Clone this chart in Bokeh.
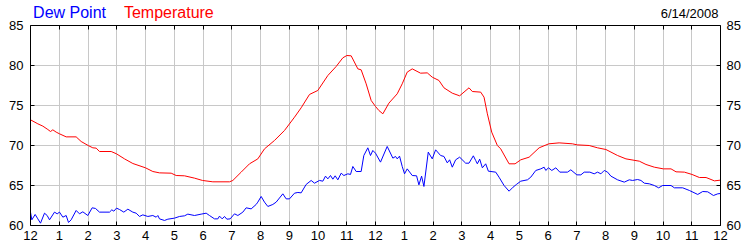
from bokeh.plotting import figure
from bokeh.models import Range1d, LinearAxis, FixedTicker, Label
from bokeh.embed import file_html
from bokeh.resources import INLINE

# hours since midnight (0..24) and temperature (°F)
temp_hours = [0.0, 0.255, 0.429, 0.603, 0.696, 0.777, 0.893, 1.009, 1.241, 1.588, 1.762, 2.006, 2.168, 2.284, 2.4, 2.806, 2.991, 3.27, 3.56, 4.0, 4.255, 4.487, 4.893, 5.067, 5.357, 5.704, 5.983, 6.342, 6.922, 7.038, 7.328, 7.617, 7.907, 8.139, 8.487, 8.835, 9.183, 9.414, 9.704, 9.994, 10.342, 10.632, 10.864, 11.003, 11.154, 11.386, 11.501, 11.675, 11.849, 12.0, 12.116, 12.256, 12.465, 12.755, 12.929, 13.103, 13.278, 13.568, 13.8, 13.974, 14.207, 14.381, 14.671, 14.927, 15.252, 15.368, 15.659, 15.775, 15.891, 16.042, 16.239, 16.355, 16.646, 16.855, 17.052, 17.343, 17.691, 18.028, 18.388, 18.852, 19.015, 19.433, 19.724, 20.014, 20.42, 20.711, 21.176, 21.408, 21.698, 22.012, 22.279, 22.453, 22.743, 23.01, 23.266, 23.498, 23.789, 23.998]
temperature = [73.21, 72.71, 72.42, 72.0, 71.75, 71.96, 71.67, 71.46, 71.08, 71.08, 70.5, 70.0, 69.71, 69.67, 69.25, 69.25, 68.96, 68.33, 67.75, 67.21, 66.75, 66.58, 66.54, 66.25, 66.21, 65.92, 65.63, 65.46, 65.46, 65.63, 66.67, 67.71, 68.33, 69.58, 70.63, 71.88, 73.54, 74.71, 76.38, 76.88, 78.75, 79.88, 80.96, 81.25, 81.21, 79.58, 79.46, 77.71, 75.63, 74.88, 74.38, 73.96, 75.29, 76.46, 77.71, 79.17, 79.58, 79.04, 79.08, 78.54, 78.13, 77.21, 76.54, 76.21, 77.21, 76.75, 76.67, 76.04, 73.96, 71.67, 70.0, 69.58, 67.71, 67.71, 68.21, 68.54, 69.71, 70.21, 70.33, 70.21, 70.08, 70.0, 69.71, 69.5, 68.75, 68.33, 68.04, 67.63, 67.29, 67.08, 67.08, 66.71, 66.67, 66.38, 66.0, 66.0, 65.58, 65.67]

# hours since midnight and dew point (°F)
dew_hours = [0.0, 0.046, 0.162, 0.255, 0.348, 0.487, 0.58, 0.661, 0.835, 0.928, 1.009, 1.125, 1.241, 1.322, 1.414, 1.588, 1.704, 1.82, 1.994, 2.145, 2.261, 2.4, 2.748, 2.829, 2.899, 2.991, 3.096, 3.246, 3.386, 3.559, 3.675, 3.791, 3.907, 4.081, 4.255, 4.371, 4.429, 4.487, 4.661, 4.777, 5.009, 5.183, 5.357, 5.472, 5.704, 5.936, 6.11, 6.226, 6.4, 6.516, 6.574, 6.667, 6.748, 6.829, 6.945, 7.096, 7.212, 7.386, 7.501, 7.675, 7.849, 7.907, 8.023, 8.139, 8.255, 8.429, 8.545, 8.777, 8.893, 9.009, 9.183, 9.299, 9.414, 9.588, 9.762, 9.878, 10.052, 10.168, 10.261, 10.342, 10.435, 10.516, 10.597, 10.69, 10.806, 10.899, 11.038, 11.13, 11.212, 11.328, 11.501, 11.594, 11.733, 11.826, 11.907, 12.0, 12.174, 12.407, 12.604, 12.697, 12.755, 12.836, 12.929, 13.01, 13.103, 13.278, 13.429, 13.51, 13.603, 13.684, 13.835, 13.974, 14.091, 14.265, 14.381, 14.497, 14.578, 14.671, 14.787, 14.927, 15.136, 15.252, 15.403, 15.484, 15.542, 15.624, 15.717, 15.833, 15.926, 16.181, 16.297, 16.472, 16.646, 16.785, 16.901, 17.052, 17.285, 17.401, 17.575, 17.749, 17.865, 17.923, 18.016, 18.132, 18.272, 18.411, 18.678, 18.794, 19.003, 19.143, 19.259, 19.456, 19.607, 19.723, 19.84, 19.956, 20.072, 20.188, 20.42, 20.653, 20.827, 20.943, 21.117, 21.233, 21.35, 21.524, 21.698, 21.849, 21.988, 22.279, 22.395, 22.685, 22.917, 23.208, 23.382, 23.556, 23.754, 23.905, 23.998]
dew_point = [61.67, 60.71, 61.38, 60.83, 60.29, 61.54, 61.25, 60.71, 61.67, 61.46, 61.67, 61.04, 61.25, 60.38, 60.71, 61.88, 61.46, 61.71, 61.25, 62.21, 62.13, 61.67, 61.67, 61.96, 61.79, 62.17, 62.0, 61.67, 62.04, 61.67, 61.54, 61.13, 61.33, 61.13, 61.25, 61.04, 61.25, 60.83, 60.63, 60.79, 60.92, 61.13, 61.21, 61.42, 61.25, 61.42, 61.54, 61.25, 60.83, 60.83, 61.17, 60.83, 61.13, 60.79, 60.83, 61.46, 61.25, 61.67, 62.21, 62.08, 62.63, 62.92, 63.63, 62.92, 62.38, 62.63, 62.92, 63.96, 63.33, 63.33, 64.04, 64.13, 64.08, 65.13, 65.63, 65.29, 65.63, 65.54, 66.17, 65.83, 66.25, 65.79, 66.21, 65.71, 66.54, 66.25, 66.46, 66.38, 67.38, 66.75, 66.75, 68.75, 69.71, 68.75, 69.38, 69.04, 67.92, 69.88, 68.42, 68.63, 68.33, 68.67, 67.38, 66.46, 67.08, 66.25, 66.21, 65.08, 66.17, 64.88, 69.17, 68.33, 69.46, 68.75, 68.63, 67.83, 68.21, 67.29, 68.21, 68.54, 67.79, 67.79, 68.71, 68.13, 67.71, 68.29, 67.21, 67.71, 66.79, 66.67, 66.04, 65.0, 64.29, 64.79, 65.13, 65.54, 65.71, 66.04, 66.88, 67.08, 67.29, 66.88, 67.21, 66.88, 67.21, 66.67, 66.67, 66.96, 66.33, 66.33, 66.67, 66.67, 66.46, 66.67, 66.46, 66.88, 66.67, 66.17, 65.71, 65.42, 65.71, 65.63, 65.75, 65.63, 65.29, 65.21, 65.0, 64.71, 65.0, 65.0, 64.71, 64.71, 64.38, 63.88, 64.25, 64.21, 63.75, 63.96, 64.0]

x_ticks = list(range(0, 25))
x_tick_labels = ["12", "1", "2", "3", "4", "5", "6", "7", "8", "9", "10", "11",
                 "12", "1", "2", "3", "4", "5", "6", "7", "8", "9", "10", "11", "12"]
y_ticks = [60, 65, 70, 75, 80, 85]
date_text = "6/14/2008"
series_names = ["Dew Point", "Temperature"]

FONT = "Liberation Sans"
Y_MIN, Y_MAX = 60, 85
# frame reaches the canvas top so the header words can live inside it;
# the visible box stops at 85 (extra 25 px headroom at 8 px per degree)
Y_TOP = Y_MAX + 25 / 8

p = figure(width=750, height=250, output_backend="svg", toolbar_location=None,
           x_range=Range1d(0, 24), y_range=Range1d(Y_MIN, Y_TOP),
           min_border_left=30, min_border_right=30,
           min_border_top=0, min_border_bottom=25)
p.background_fill_color = "white"
p.border_fill_color = "white"
p.outline_line_color = None

def style_axis(ax, standoff, show_labels=True):
    ax.axis_line_color = "black"
    ax.major_tick_line_color = "black"
    ax.major_tick_in = 4
    ax.major_tick_out = 0
    ax.minor_tick_line_color = None
    ax.major_label_standoff = standoff
    ax.major_label_text_font = FONT
    ax.major_label_text_font_size = "13px"
    ax.major_label_text_color = "black" if show_labels else None

# bottom axis
xa = p.xaxis[0]
xa.ticker = FixedTicker(ticks=x_ticks)
xa.major_label_overrides = {t: l for t, l in zip(x_ticks, x_tick_labels)}
style_axis(xa, 5)

# left axis
ya = p.yaxis[0]
ya.ticker = FixedTicker(ticks=y_ticks)
ya.bounds = (Y_MIN, Y_MAX)
style_axis(ya, 7)

# right axis
ra = LinearAxis(ticker=FixedTicker(ticks=y_ticks), bounds=(Y_MIN, Y_MAX))
style_axis(ra, 6)
p.add_layout(ra, "right")

# top border with inward ticks, fixed at 85
ta = LinearAxis(ticker=FixedTicker(ticks=x_ticks), fixed_location=Y_MAX)
style_axis(ta, 0, show_labels=False)
ta.major_label_overrides = {t: "" for t in x_ticks}
p.add_layout(ta, "above")

p.xgrid.ticker = FixedTicker(ticks=x_ticks)
p.ygrid.ticker = FixedTicker(ticks=y_ticks)
for g in (p.xgrid[0], p.ygrid[0]):
    g.grid_line_color = "#c8c8c8"
    g.grid_line_width = 1
p.xgrid[0].cross_bounds = (Y_MIN, Y_MAX)

p.line(temp_hours, temperature, line_color="#ff0000", line_width=1)
p.line(dew_hours, dew_point, line_color="#0000ff", line_width=1)

# header words, vertically centred about 12-13 px below the canvas top
p.add_layout(Label(x=0.09, y=86.6, text=series_names[0], text_color="#0000ff",
                   text_font=FONT, text_font_size="16px", text_baseline="middle",
                   text_align="left"))
p.add_layout(Label(x=3.25, y=86.6, text=series_names[1], text_color="#ff0000",
                   text_font=FONT, text_font_size="16px", text_baseline="middle",
                   text_align="left"))
p.add_layout(Label(x=23.93, y=86.46, text=date_text, text_color="black",
                   text_font=FONT, text_font_size="13px", text_baseline="middle",
                   text_align="right"))

open("out.html", "w").write(file_html(p, INLINE))
